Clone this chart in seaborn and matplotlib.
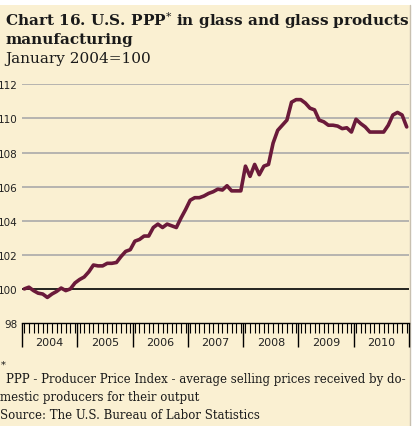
import matplotlib
matplotlib.use("Agg")
import matplotlib.pyplot as plt
from matplotlib.patches import Rectangle
from matplotlib.lines import Line2D
import seaborn as sns
import pandas as pd

# -----------------------------------------------------------
# Data: monthly index, January 2004 = 100 (Jan 2004 .. Dec 2010)
# -----------------------------------------------------------
years = ["2004", "2005", "2006", "2007", "2008", "2009", "2010"]
ppi_2004 = [100.0, 100.1, 99.9, 99.75, 99.7, 99.5, 99.7, 99.85, 100.05, 99.9, 100.0, 100.35]
ppi_2005 = [100.55, 100.7, 101.0, 101.4, 101.35, 101.35, 101.5, 101.5, 101.55, 101.9, 102.2, 102.3]
ppi_2006 = [102.8, 102.9, 103.1, 103.1, 103.6, 103.8, 103.6, 103.8, 103.7, 103.6, 104.15, 104.65]
ppi_2007 = [105.2, 105.35, 105.35, 105.45, 105.6, 105.7, 105.85, 105.8, 106.05, 105.75, 105.75, 105.75]
ppi_2008 = [107.2, 106.6, 107.3, 106.7, 107.2, 107.3, 108.55, 109.3, 109.6, 109.9, 110.95, 111.1]
ppi_2009 = [111.1, 110.9, 110.6, 110.5, 109.9, 109.8, 109.6, 109.6, 109.55, 109.4, 109.45, 109.2]
ppi_2010 = [109.95, 109.7, 109.5, 109.2, 109.2, 109.2, 109.2, 109.6, 110.2, 110.35, 110.2, 109.5]
y_ticks = [98, 100, 102, 104, 106, 108, 110, 112]

values = ppi_2004 + ppi_2005 + ppi_2006 + ppi_2007 + ppi_2008 + ppi_2009 + ppi_2010
df = pd.DataFrame({"Month": range(len(values)), "Index": values})

# -----------------------------------------------------------
# Figure and colours
# -----------------------------------------------------------
cream = "#FAF0D2"
wine = "#6B1A3A"
W, H = 412, 427

sns.set_style("white")
plt.rcParams["font.family"] = ["DejaVu Sans"]
plt.rcParams["mathtext.fontset"] = "dejavuserif"

fig = plt.figure(figsize=(W / 100, H / 100), dpi=100)
fig.patch.set_facecolor("white")
fig.patches.append(Rectangle((0, 0), 410 / W, 421 / H, transform=fig.transFigure,
                             facecolor=cream, edgecolor="none", zorder=-10))
fig.lines.append(Line2D([410 / W, 410 / W], [0, 421 / H], transform=fig.transFigure,
                        color="#C8C0B0", linewidth=1, zorder=-9))

ax = fig.add_axes([22 / W, 103 / H, 387 / W, 238.7 / H])
ax.set_facecolor("none")
ax.set_zorder(2)

# gridlines (gray) and the 100 baseline (black)
for t in y_ticks[2:]:
    ax.axhline(t, color="#AAAAAA", linewidth=1.2, zorder=1)
ax.axhline(100, color="black", linewidth=1.2, zorder=1)

sns.lineplot(data=df, x="Month", y="Index", color=wine, linewidth=2.6, ax=ax, zorder=3)

ax.set_xlim(-0.5, len(values) - 0.5)
ax.set_ylim(98, 112)
ax.set_xlabel("")
ax.set_ylabel("")

for side in ["top", "right", "left"]:
    ax.spines[side].set_visible(False)
ax.spines["bottom"].set_color("black")
ax.spines["bottom"].set_linewidth(1.0)

# y axis: labels only
ax.set_yticks(y_ticks)
ax.set_yticklabels([str(t) for t in y_ticks], fontsize=7.5, color="#222222")
ax.tick_params(axis="y", length=0, pad=3)

# x axis: year separators (major) and monthly ticks (minor)
ax.set_xticks([-0.5 + 12 * k for k in range(len(years) + 1)])
ax.set_xticklabels([])
ax.set_xticks(range(len(values)), minor=True)
ax.tick_params(axis="x", which="major", bottom=True, direction="out",
               length=17, width=1.0, color="black")
ax.tick_params(axis="x", which="minor", bottom=True, direction="out",
               length=7, width=0.8, color="black")

for k, yr in enumerate(years):
    ax.text(5.5 + 12 * k, -0.078, yr, transform=ax.get_xaxis_transform(),
            ha="center", va="center", fontsize=8, color="#222222")

# -----------------------------------------------------------
# Titles and notes
# -----------------------------------------------------------
def fy(py):
    return 1 - py / H

serif = ["DejaVu Serif"]
fig.text(5 / W, fy(26), r"Chart 16. U.S. PPP$^{*}$ in glass and glass products",
         fontsize=11, fontweight="bold", family=serif, va="baseline", color="#1a1a1a")
fig.text(5 / W, fy(44), "manufacturing", fontsize=11, fontweight="bold",
         family=serif, va="baseline", color="#1a1a1a")
fig.text(5 / W, fy(63), "January 2004=100", fontsize=11, family=serif,
         va="baseline", color="#1a1a1a")

fig.text(1 / W, fy(368), "*", fontsize=7, family=serif, va="baseline", color="#1a1a1a")
fig.text(6 / W, fy(383), "PPP - Producer Price Index - average selling prices received by do-",
         fontsize=8.5, family=serif, va="baseline", color="#1a1a1a")
fig.text(0 / W, fy(401), "mestic producers for their output",
         fontsize=8.5, family=serif, va="baseline", color="#1a1a1a")
fig.text(0 / W, fy(419), "Source: The U.S. Bureau of Labor Statistics",
         fontsize=8.5, family=serif, va="baseline", color="#1a1a1a")

fig.savefig("out.png", dpi=100, facecolor=fig.get_facecolor())
